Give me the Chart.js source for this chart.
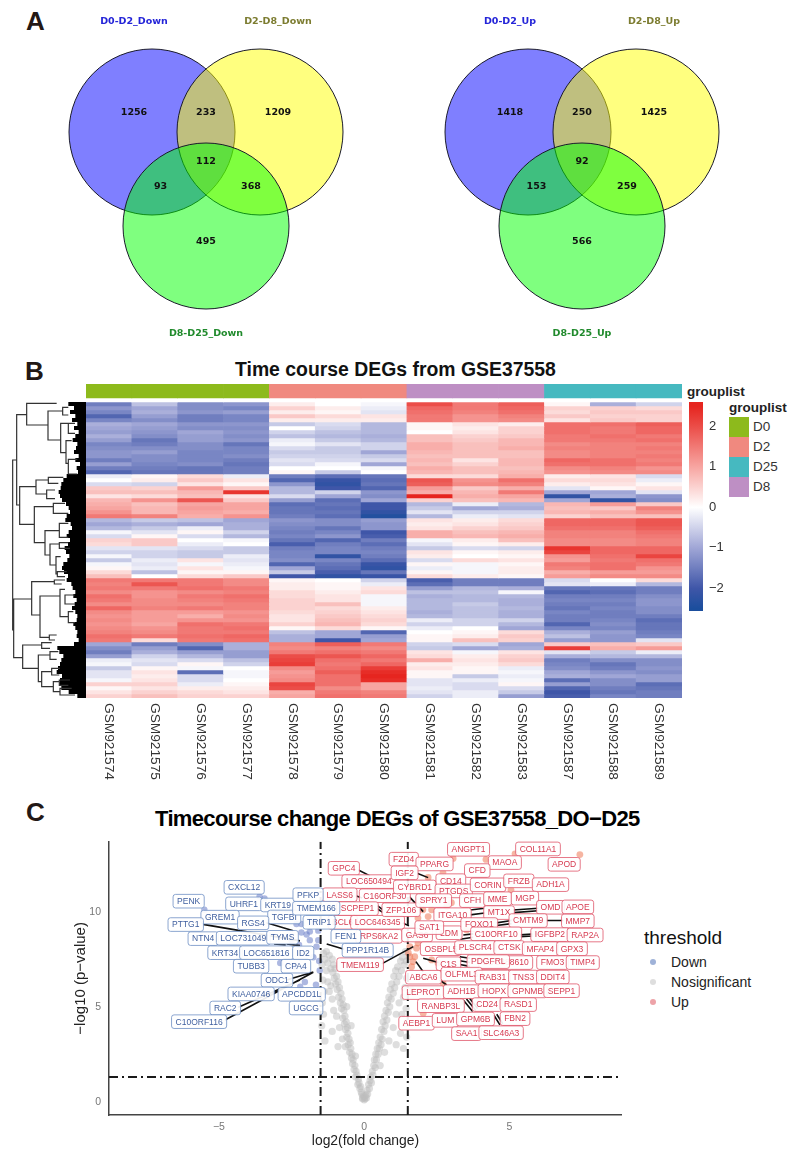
<!DOCTYPE html>
<html>
<head>
<meta charset="utf-8">
<title>Time course DEGs</title>
<script src="https://cdn.jsdelivr.net/npm/chart.js@4"></script>
<style>
  html, body { margin: 0; padding: 0; background: #fff; }
  body { position: relative; width: 796px; height: 1155px; overflow: hidden; font-family: "Liberation Sans", Arial, sans-serif; }
  canvas { position: absolute; }
  .txt { position: absolute; white-space: nowrap; color: #111; line-height: 1; }
  .letra { font-weight: bold; font-size: 26px; color: #231815; }
</style>
</head>
<body>
<div class="txt letra" style="left:26px;top:8px">A</div>
<div class="txt letra" style="left:25px;top:358px">B</div>
<div class="txt letra" style="left:26px;top:799px">C</div>
<div class="txt" style="left:235px;top:360px;font-size:19.4px;font-weight:bold">Time course DEGs from GSE37558</div>
<div class="txt" style="left:155px;top:808px;font-size:22px;font-weight:bold;letter-spacing:-0.65px;color:#000">Timecourse change DEGs of GSE37558_DO−D25</div>
<div class="txt" style="left:687px;top:385px;font-size:13.5px;font-weight:bold;color:#222">grouplist</div>
<div class="txt" style="left:729px;top:401px;font-size:13.5px;font-weight:bold;color:#222">grouplist</div>
<div class="txt" style="left:644px;top:928px;font-size:19px;color:#111">threshold</div>

<canvas id="vennDown" width="400" height="350" style="left:0;top:0"></canvas>
<canvas id="vennUp" width="400" height="350" style="left:376px;top:0"></canvas>
<canvas id="dendro" width="86" height="296" style="left:0;top:402px"></canvas>
<canvas id="heat" width="596" height="410" style="left:86px;top:384px"></canvas>
<canvas id="colorbar" width="40" height="209" style="left:689px;top:402px"></canvas>
<canvas id="volcano" width="550" height="312" style="left:72px;top:838px"></canvas>
<div id="legendas"></div>

<script>
// ---- panel A
const vennRegions = ["A", "AB", "B", "ABC", "AC", "BC", "C"];
const vennDownCounts = [1256, 233, 1209, 112, 93, 368, 495];
const vennUpCounts = [1418, 250, 1425, 92, 153, 259, 566];
const vennDownNames = ["D0-D2_Down", "D2-D8_Down", "D8-D25_Down"];
const vennUpNames = ["D0-D2_Up", "D2-D8_Up", "D8-D25_Up"];

// ---- panel B
const sampleNames = ["GSM921574", "GSM921575", "GSM921576", "GSM921577", "GSM921578", "GSM921579", "GSM921580",
  "GSM921581", "GSM921582", "GSM921583", "GSM921587", "GSM921588", "GSM921589"];
const sampleGroups = ["D0", "D0", "D0", "D0", "D2", "D2", "D2", "D8", "D8", "D8", "D25", "D25", "D25"];
const groupNames = ["D0", "D2", "D25", "D8"];
const groupColors = ["#8dba1c", "#f0897f", "#46b9c0", "#be8fc4"];
const colorbarTicks = [-2, -1, 0, 1, 2];

const heatRows = [
  [-1.5,-0.7,-1.3,-1.2, 0.2,0.0,-0.1, 2.0,1.5,1.8, 0.1,-0.9,-0.5],
  [-1.2,-1.0,-1.3,-1.4, 0.5,0.2,-0.2, 1.7,1.5,1.7, 0.5,0.5,0.4],
  [-1.4,-0.9,-1.2,-1.1, 0.2,0.1,-0.3, 1.6,1.4,1.6, 0.4,0.6,0.6],
  [-1.8,-1.1,-1.5,-1.4, 0.6,0.4,0.3, 1.5,1.2,1.4, 0.6,0.5,0.5],
  [-1.4,-1.3,-1.5,-1.4, 0.2,0.2,0.2, 1.5,1.2,1.3, 0.3,0.6,0.5],
  [-0.9,-1.0,-1.2,-1.2, -0.6,-0.4,-0.8, 0.1,0.3,0.2, 1.6,1.6,1.8],
  [-1.0,-1.1,-1.3,-1.3, 0.0,-0.5,-0.8, 0.1,0.2,0.5, 1.6,1.5,1.7],
  [-1.1,-1.2,-1.0,-1.2, -0.5,-0.7,-0.8, 0.0,0.3,0.5, 1.6,1.5,1.7],
  [-0.9,-1.3,-1.1,-1.3, -0.7,-0.8,-0.9, 0.7,0.5,0.6, 1.5,1.6,1.5],
  [-1.1,-1.6,-1.1,-1.2, -0.2,-0.6,-0.8, 0.7,0.6,0.8, 1.5,1.5,1.6],
  [-1.4,-1.5,-1.3,-1.6, -0.1,-0.3,-0.5, 0.9,0.7,0.8, 1.3,1.4,1.4],
  [-1.3,-1.3,-1.3,-1.4, -0.4,-0.6,-0.5, 0.9,0.7,0.9, 1.4,1.4,1.5],
  [-1.2,-1.1,-1.4,-1.4, -0.6,-0.6,-1.0, 0.8,0.7,0.7, 1.3,1.4,1.4],
  [-1.2,-1.3,-1.4,-1.3, -0.5,-0.5,-0.6, 0.7,0.7,0.7, 1.3,1.4,1.5],
  [-1.5,-1.3,-1.4,-1.5, -0.3,-0.4,-0.4, 0.8,0.3,0.8, 1.7,1.6,1.4],
  [-1.1,-1.4,-1.3,-1.6, -0.4,-0.1,-1.0, 0.7,0.5,0.8, 1.6,1.6,1.5],
  [-1.5,-1.5,-1.6,-1.5, 0.0,0.0,-0.1, 0.9,0.7,0.7, 1.3,1.4,1.2],
  [-1.8,-1.6,-1.6,-1.5, 0.1,-0.6,0.0, 0.8,0.7,0.8, 1.2,1.3,1.3],
  [-0.2,0.1,0.4,-0.2, -1.5,-1.7,-1.6, 0.4,0.4,0.9, 0.2,0.3,-0.4],
  [0.0,0.2,0.6,0.3, -1.8,-2.1,-1.7, 1.9,1.2,1.6, 0.4,0.4,-0.2],
  [-0.4,-0.5,0.3,0.1, -1.2,-2.2,-1.6, 1.8,1.3,1.4, 0.2,0.3,0.1],
  [0.6,0.5,1.1,0.6, -0.8,-2.0,-1.8, 1.1,0.6,0.9, -0.3,0.1,0.3],
  [0.7,0.7,0.8,2.3, -0.8,-0.5,-1.2, 0.9,0.8,1.5, -1.0,-1.0,-0.3],
  [0.3,0.4,0.7,0.3, -0.4,-1.0,-1.3, 2.5,0.9,1.0, -2.2,-0.9,-1.2],
  [0.8,1.2,1.9,0.6, -1.1,-1.7,-1.0, 0.5,0.7,0.8, -1.0,-2.2,-1.3],
  [0.9,0.7,1.0,1.0, -1.7,-1.6,-2.0, -0.8,-0.2,-0.8, 0.8,1.1,0.6],
  [1.0,0.8,1.1,1.0, -1.6,-1.7,-2.0, -0.6,-1.0,-0.9, 0.7,0.6,1.4],
  [1.2,0.8,1.0,0.9, -1.6,-1.6,-2.2, -0.3,-0.5,-0.5, 0.8,0.9,1.2],
  [1.5,1.4,0.9,1.2, -1.5,-1.7,-2.4, -0.8,-0.2,-0.3, 0.5,0.7,0.7],
  [-0.8,-0.6,-0.7,-1.0, -1.2,-1.3,-1.1, 0.3,0.2,0.4, 1.7,1.7,1.9],
  [-1.0,-0.9,-1.0,-0.9, -1.3,-1.3,-1.2, 0.2,0.3,0.5, 1.7,1.7,1.9],
  [-0.8,-0.6,-0.2,-0.9, -1.4,-1.6,-1.2, 0.3,0.5,0.6, 1.6,1.6,1.8],
  [-0.1,-0.3,0.1,-0.5, -1.5,-1.4,-2.0, 0.9,0.7,0.8, 1.4,1.4,1.6],
  [-0.4,0.1,-0.4,-0.8, -1.4,-1.2,-1.9, 0.9,0.8,0.9, 1.4,1.4,1.5],
  [0.5,0.6,0.0,-0.1, -1.6,-1.8,-1.5, -0.1,0.2,0.7, 1.3,1.3,1.4],
  [0.4,0.6,-0.2,0.0, -1.9,-1.5,-1.7, -0.3,0.1,0.2, 1.3,1.3,1.4],
  [-0.3,-0.3,-0.4,-0.6, -1.5,-1.4,-1.5, -0.6,-0.4,-0.5, 2.3,1.7,1.7],
  [-0.5,-0.5,-0.6,-0.6, -1.4,-1.4,-1.4, 0.3,0.1,0.2, 2.1,1.7,1.7],
  [-0.1,-0.5,-0.6,-0.2, -1.4,-2.2,-1.5, 0.2,0.0,0.1, 1.2,1.6,2.1],
  [-0.6,-0.2,0.3,-0.3, -1.3,-1.4,-1.7, -0.4,0.4,0.3, 1.1,1.5,1.6],
  [-0.1,-0.3,-0.1,-0.2, -1.8,-1.6,-2.1, 0.1,-0.1,0.1, 1.5,1.6,1.5],
  [0.1,-0.2,0.3,-0.1, -1.0,-1.7,-2.2, -0.2,-0.1,0.2, 1.4,1.6,1.2],
  [0.4,-0.7,0.1,0.1, -0.6,-1.9,-1.6, 0.1,-0.1,0.2, 0.9,1.1,1.1],
  [0.7,0.0,0.4,0.6, -2.0,-2.2,-2.1, 0.4,0.2,0.1, 1.1,1.3,1.3],
  [1.5,1.5,1.5,1.3, 0.1,0.0,-0.5, -1.9,-1.5,-1.5, -0.4,0.0,0.4],
  [1.4,1.9,1.5,1.3, 0.2,0.1,-0.2, -1.7,-1.5,-1.5, -0.3,-0.2,-0.8],
  [1.5,1.5,1.6,1.5, 0.2,0.1,0.3, -1.1,-0.8,-0.9, -1.6,-1.6,-1.5],
  [1.3,1.2,1.3,1.4, 0.4,0.2,0.4, -0.7,-0.7,-0.1, -1.8,-1.7,-1.5],
  [1.6,1.2,1.5,1.6, 0.4,0.3,-0.1, -0.9,-0.8,-0.8, -1.5,-1.5,-1.3],
  [1.5,1.3,1.4,1.5, 0.5,0.3,-0.1, -0.8,-0.8,-0.9, -1.4,-1.4,-1.2],
  [1.3,1.3,1.3,1.4, 0.5,0.7,-0.1, -0.8,-0.6,-0.9, -1.5,-1.5,-1.2],
  [1.7,1.4,1.5,1.4, 0.5,0.4,0.2, -0.8,-0.7,-0.8, -1.6,-1.4,-1.3],
  [1.3,1.1,1.1,1.2, 0.4,0.5,0.3, -0.9,-0.7,-0.9, -1.4,-1.5,-1.3],
  [1.2,1.1,0.9,1.3, 0.3,0.6,0.4, -0.8,-0.7,-0.9, -1.5,-1.5,-1.5],
  [1.3,1.1,1.2,1.2, 0.3,0.7,0.5, -0.2,-0.5,-0.5, -1.5,-1.4,-1.7],
  [1.2,1.0,1.6,1.5, 0.5,0.8,0.4, -0.5,-0.5,-0.8, -1.8,-1.3,-1.6],
  [1.3,1.2,1.5,1.6, 0.1,0.4,0.1, -0.2,0.0,-1.0, -1.4,-1.4,-1.6],
  [1.4,1.3,1.5,1.5, -0.7,-1.0,-1.8, 0.0,0.1,0.4, -0.9,-1.1,-1.5],
  [1.6,1.5,1.6,1.7, -0.9,-1.0,-1.1, 0.1,0.2,0.6, -0.7,-1.2,-1.4],
  [1.5,0.4,1.5,1.6, -0.9,-2.0,-1.0, 0.1,0.7,0.5, -1.1,-1.2,-0.3],
  [-1.0,-1.5,-1.3,-0.9, 1.4,1.8,1.5, -0.5,-0.4,-1.0, 0.6,0.7,0.6],
  [-1.3,-1.1,-1.8,-0.9, 1.3,1.4,1.3, -0.6,-1.0,-0.9, 2.2,0.9,1.1],
  [-1.5,-0.9,-1.1,-1.1, 1.5,1.6,1.5, 0.3,-0.1,0.3, -0.3,-0.6,-0.2],
  [-1.1,-0.5,-0.8,-1.1, 2.0,1.9,1.7, 0.4,0.2,0.5, -0.9,-0.8,-0.8],
  [-0.2,-0.3,-0.4,-0.7, 2.1,1.6,1.5, 0.9,0.3,0.6, -1.5,-1.3,-1.3],
  [-0.1,-0.4,0.1,-0.5, 2.2,1.5,1.7, 0.2,0.2,0.4, -1.4,-1.6,-1.3],
  [-0.6,0.1,-0.1,0.0, 1.3,1.6,2.2, 0.3,0.1,-0.2, -1.3,-1.5,-1.2],
  [-0.3,0.3,-1.7,-0.1, 1.1,1.8,2.4, 0.1,0.1,-0.1, -1.0,-1.2,-1.3],
  [-0.3,0.2,-0.4,-0.1, 1.2,1.6,2.5, 0.1,-0.6,-0.2, -0.9,-1.0,-1.1],
  [-0.1,0.3,-0.4,0.0, 1.3,1.6,2.4, -0.3,-0.2,-0.1, -1.7,-1.3,-1.1],
  [0.5,0.5,-0.2,0.1, 2.1,1.6,1.0, -0.3,-0.4,0.1, -1.1,-1.3,-1.7],
  [0.1,0.3,0.2,0.2, 2.0,1.3,1.0, -0.2,-0.4,-0.4, -1.8,-1.5,-1.6],
  [0.3,0.5,0.4,0.3, 0.9,1.5,1.4, -0.3,-0.2,-0.6, -2.0,-1.6,-1.5],
  [0.5,0.7,0.5,0.5, 1.0,1.6,1.5, -0.5,-0.2,-1.1, -1.9,-1.4,-1.5]
];

// dendrogram: [merge, leafTop, leafBottom, childTop, childBottom]
const dendroLinks = [
  [38,180,690,50,41], [50,44,315,80,59], [41,597,773,95,68], [80,10,75,170,144], [144,33,120,188,182],
  [188,22,45,205,205], [182,70,158,205,198], [198,122,190,215,205], [205,70,100,225,225], [205,178,222,232,232],
  [59,260,373,108,103], [108,240,282,145,140], [145,232,250,190,175], [140,270,296,165,165], [103,320,428,160,135],
  [160,310,340,195,205], [135,392,465,178,150], [178,370,412,205,205], [150,432,495,178,168], [178,428,445,205,210],
  [168,470,522,182,172], [172,515,530,200,195], [95,545,645,163,120], [163,540,552,195,185], [120,588,712,180,148],
  [180,568,650,195,205], [195,585,612,225,225], [205,635,668,220,225], [148,705,720,170,165], [68,735,805,125,115],
  [125,728,745,155,150], [115,765,845,150,125], [150,755,778,175,170], [125,815,860,155,160], [155,805,825,180,178],
  [160,845,875,178,180], [178,840,856,210,205], [180,865,885,215,225]
];
const leafEdge = [205,222,210,226,216,232,222,236,226,218,232,228,222,236,226,240,230,234,200,
  190,184,182,176,180,186,198,206,210,200,196,212,216,206,200,210,204,194,198,208,202,190,186,192,204,
  200,214,218,226,220,230,224,216,226,232,230,220,226,232,230,236,222,172,178,190,184,180,174,170,186,
  180,178,184,206,232];

// ---- panel C
const volcanoXTicks = [-5, 0, 5];
const volcanoYTicks = [0, 5, 10];
const grayX = [-0.05,-0.08,0.0,-0.1,-0.12,-0.15,-0.18,-0.2,-0.22,-0.25,-0.28,-0.3,-0.32,-0.35,-0.38,-0.4,-0.42,-0.44,-0.46,-0.48,
  -0.5,-0.52,-0.55,-0.56,-0.58,-0.6,-0.62,-0.64,-0.66,-0.68,-0.7,-0.72,-0.74,-0.76,-0.78,-0.8,-0.82,-0.85,-0.88,-0.9,
  -0.93,-0.95,-0.98,-1.0,-1.03,-1.05,-1.08,-1.1,-1.15,-1.2,-1.25,-1.3,-1.35,-1.4,-1.45,-1.42,-1.38,-1.44,-1.4,-1.46,
  -1.2,-1.25,-1.1,-1.05,-0.95,-1.3,-1.15,-0.85,-0.75,-1.35,-1.1,-0.65,-0.3,-0.9,-0.6,-0.45,
  0.03,0.06,0.1,0.12,0.15,0.18,0.2,0.22,0.25,0.28,0.3,0.33,0.35,0.38,0.4,0.42,0.45,0.48,0.5,0.52,
  0.55,0.58,0.6,0.62,0.65,0.68,0.7,0.72,0.75,0.78,0.8,0.83,0.85,0.88,0.9,0.93,0.95,1.0,1.02,1.05,
  1.08,1.12,1.15,1.2,1.25,1.28,1.32,1.38,1.42,1.45,1.47,1.4,1.35,1.44,1.3,1.42,1.2,1.1,1.46,1.25,
  1.0,0.85,1.1,1.35,0.7,0.55,0.02,-0.03,0.08,-0.06];
const grayY = [0.2,0.4,0.1,0.5,0.8,0.7,1.0,1.2,0.9,1.4,1.6,1.3,1.9,1.7,2.2,2.0,2.5,2.3,2.8,3.1,
  2.6,3.3,3.0,3.6,3.9,3.4,4.2,3.8,4.5,4.1,4.8,5.1,4.4,5.4,4.9,5.7,5.2,6.0,5.5,6.3,
  5.9,6.6,6.2,7.0,6.5,7.2,6.8,7.5,7.0,7.7,7.3,7.9,7.5,7.8,7.2,6.4,5.8,5.2,4.6,4.0,
  5.8,6.3,5.4,4.8,4.5,6.9,6.1,3.9,3.3,3.2,3.7,2.9,2.4,2.9,5.0,4.0,
  0.15,0.35,0.6,0.4,0.9,0.7,1.1,1.3,1.0,1.6,1.4,1.9,2.2,1.8,2.5,2.2,2.8,2.5,3.1,2.8,
  3.4,3.0,3.8,3.3,4.2,3.7,4.5,4.0,4.8,4.3,5.2,4.7,5.5,5.0,5.9,5.4,6.2,5.7,6.6,6.0,
  6.9,6.3,7.1,6.6,7.4,6.9,7.6,7.2,7.9,7.4,6.5,6.0,5.5,4.9,4.6,4.1,5.2,4.6,3.4,3.6,
  3.9,3.2,3.0,2.8,2.6,1.9,0.25,0.3,0.2,0.15];
const downX = [-5.5,-3.6,-3.43,-2.16,-1.98,-1.87,-1.58,-2.24,-1.64,-1.75,-1.55,-2.89,-2.33,-2.16,-2.04,-1.66,-1.53,-2.2,-2.4,-1.58,-1.87,-1.75,-2.1,-2.5];
const downY = [10.1,10.8,10.7,8.9,8.8,8.5,8.5,8.25,8.15,7.6,7.4,7.3,9.35,9.35,6.3,6.15,6.9,6.05,7.1,9.0,8.95,9.4,7.0,8.5];
const upX = [7.42,5.19,3.06,4.19,2.71,2.2,5.05,3.0,2.2,1.85,2.32,1.57,1.85,1.57,1.74,1.63,2.32,2.03,2.54,1.8,2.15,2.71,1.63,3.29,1.52,1.68,2.02,2.54,2.84,3.52,4.44];
const upY = [13.0,13.04,12.8,12.75,12.05,11.8,11.14,10.47,9.74,9.66,10.1,8.16,8.35,7.63,7.63,7.1,7.46,4.66,7.3,8.08,6.58,6.25,5.88,5.2,7.83,7.37,10.1,5.53,10.27,9.04,10.1];

const downNames = ["CXCL12","PENK","UHRF1","KRT19","GREM1","TGFBI","PFKP","TMEM166","PTTG1","RGS4","NTN4","LOC731049","TYMS","KRT34","LOC651816","ID2","TUBB3","CPA4","ODC1","KIAA0746","APCDD1L","RAC2","UGCG","C10ORF116","FEN1","TRIP1","PPP1R14B"];
const downLabelX = [-4.13,-6.04,-4.14,-2.97,-4.96,-2.75,-1.93,-1.65,-6.14,-3.82,-5.54,-4.16,-2.81,-4.79,-3.36,-2.10,-3.89,-2.35,-3.0,-3.89,-2.15,-4.78,-2.0,-5.68,-0.63,-1.55,0.12];
const downLabelY = [11.28,10.55,10.41,10.35,9.71,9.72,10.89,10.18,9.32,9.41,8.58,8.6,8.65,7.84,7.84,7.83,7.13,7.13,6.39,5.67,5.65,4.93,4.93,4.21,8.7,9.44,7.97];
const upNames = ["GPC4","LOC650494","LASS6","C16ORF30","SCPEP1","BCL6","LOC646345","RPS6KA2","TMEM119","ZFP106","GAS6","FZD4","PPARG","ANGPT1","COL11A1","MAOA","APOD","IGF2","CFD","CD14","CYBRD1","PTGDS","CORIN","FRZB","ADH1A","CFH","SPRY1","MME","MGP","OMD","APOE","ITGA10","MT1X","CMTM9","MMP7","LDM","FOXO1","SAT1","C10ORF10","IGFBP2","RAP2A","OSBPL5","PLSCR4","CTSK","MFAP4","GPX3","C1S","LOC388610","PDGFRL","FMO3","TIMP4","ABCA6","OLFML3","RAB31","TNS3","DDIT4","LEPROT","ADH1B","HOPX","GPNMB","SEPP1","RANBP3L","CD24","RASD1","AEBP1","LUM","GPM6B","FBN2","SAA1","SLC46A3"];
const upLabelX = [-0.70,0.16,-0.84,0.71,-0.23,-0.74,0.46,0.51,-0.14,1.27,1.82,1.36,2.42,3.59,5.98,4.84,6.88,1.39,3.89,2.98,1.74,3.08,4.26,5.32,6.41,3.72,2.39,4.59,5.53,6.41,7.35,3.04,4.64,5.64,7.35,2.92,3.96,2.24,4.54,6.39,7.6,2.64,3.82,4.99,6.06,7.15,2.9,4.87,4.27,6.48,7.52,2.04,3.35,4.42,5.48,6.49,2.03,3.35,4.47,5.62,6.79,2.64,4.23,5.3,1.8,2.79,3.83,5.19,3.52,4.71];
const upLabelY = [12.28,11.58,10.89,10.84,10.16,9.44,9.44,8.7,7.21,10.1,8.77,12.76,12.51,13.28,13.3,12.58,12.49,12.04,12.16,11.63,11.3,11.09,11.41,11.62,11.42,10.58,10.58,10.68,10.71,10.23,10.25,9.84,9.95,9.53,9.51,8.89,9.32,9.16,8.83,8.79,8.77,8.05,8.11,8.11,8.05,8.05,7.26,7.32,7.37,7.32,7.32,6.55,6.71,6.56,6.56,6.56,5.74,5.79,5.84,5.83,5.84,5.05,5.11,5.11,4.13,4.28,4.35,4.37,3.58,3.63];

// label connectors: [x1, y1, x2, y2] in plot units
const connectorLines = [
  [-5.54,9.33,-2.21,8.46], [-3.36,9.41,-2.44,9.0], [-4.79,4.3,-1.75,6.81], [-4.33,4.97,-2.21,6.4], [-2.67,6.4,-1.75,6.82],
  [-2.67,8.3,-2.21,8.21], [-1.29,8.3,-0.69,8.02], [0.6,7.25,1.69,8.16], [-0.2,12.19,0.2,11.88], [1.82,12.02,2.2,11.79],
  [-0.29,10.84,-0.07,10.72], [0.45,10.32,0.65,10.09], [0.45,10.15,0.65,9.95], [1.55,10.79,2.03,10.0], [1.33,9.4,1.54,9.25],
  [3.64,10.09,4.15,10.18], [3.64,9.83,4.15,9.93], [5.13,10.09,5.99,10.18], [5.13,9.95,5.99,10.05], [6.28,9.53,6.85,9.53],
  [4.55,9.41,5.07,9.53], [4.55,9.27,5.07,9.37], [5.36,8.68,5.79,8.72], [5.36,8.78,5.79,8.82], [3.41,8.77,3.75,8.83],
  [3.3,8.55,3.75,8.65], [2.03,7.55,2.55,7.32], [3.29,7.63,3.64,7.55], [3.29,7.42,3.64,7.32], [3.29,7.22,3.64,7.12],
  [1.78,7.37,2.03,6.84], [2.6,6.4,2.84,6.14], [3.41,5.35,3.73,4.74], [3.52,5.4,3.84,4.8], [3.62,5.45,3.9,4.9],
  [4.46,4.56,4.67,4.04], [4.56,4.6,4.77,4.1], [-3.1,8.3,-2.7,8.25]
];

// ---- helpers
Chart.defaults.layout.autoPadding = false;

const rampValues = [-2.5, -2, -1, 0, 1, 2, 2.5];
const rampColors = [[27,78,157], [63,86,168], [160,166,214], [255,255,255], [247,165,161], [235,77,72], [230,37,31]];

function corCelula(v) {
  const t = Math.max(-2.5, Math.min(2.5, v));
  let i = 0;
  while (i < rampValues.length - 2 && t > rampValues[i + 1]) i++;
  const f = (t - rampValues[i]) / (rampValues[i + 1] - rampValues[i]);
  const c = rampColors[i].map((a, k) => Math.round(a + (rampColors[i + 1][k] - a) * f));
  return `rgb(${c[0]},${c[1]},${c[2]})`;
}

function criarVenn(idCanvas, contagens, nomes) {
  const centros = [[206, 226], [260, 132], [152, 132]]; // drawn last to first
  const cores = ["rgba(0,255,0,0.5)", "rgba(255,255,0,0.5)", "rgba(0,0,255,0.5)"];
  const posTexto = { A: [134, 113], AB: [206, 113], B: [278, 113], ABC: [206, 161.5], AC: [160.5, 187], BC: [251, 187], C: [206, 242] };
  const posNome = [[134, 22], [278, 22], [206, 334]];
  const corNome = ["#2424d8", "#7c7c30", "#208a2c"];

  new Chart(document.getElementById(idCanvas), {
    type: "bubble",
    data: {
      datasets: centros.map((c, i) => ({
        data: [{ x: c[0], y: c[1], r: 83 }],
        backgroundColor: cores[i],
        borderColor: "#1a1a2a",
        borderWidth: 1
      }))
    },
    options: {
      responsive: false,
      animation: false,
      layout: { padding: 0 },
      plugins: { legend: { display: false }, tooltip: { enabled: false } },
      scales: {
        x: { display: false, min: 0, max: 400 },
        y: { display: false, min: 0, max: 350, reverse: true }
      }
    },
    plugins: [{
      id: "textosVenn",
      afterDatasetsDraw(chart) {
        const ctx = chart.ctx;
        const sx = chart.scales.x, sy = chart.scales.y;
        ctx.save();
        ctx.textAlign = "center";
        ctx.textBaseline = "middle";
        ctx.font = 'bold 9.5px "DejaVu Sans"';
        ctx.fillStyle = "#111";
        vennRegions.forEach((r, i) => {
          ctx.fillText(String(contagens[i]), sx.getPixelForValue(posTexto[r][0]), sy.getPixelForValue(posTexto[r][1]));
        });
        nomes.forEach((n, i) => {
          ctx.fillStyle = corNome[i];
          ctx.fillText(n, sx.getPixelForValue(posNome[i][0]), sy.getPixelForValue(posNome[i][1]));
        });
        ctx.restore();
      }
    }]
  });
}

function criarDendro() {
  const linhas = [];
  dendroLinks.forEach(l => {
    linhas.push({ x: l[3], y: l[1] }, { x: l[0], y: l[1] }, { x: l[0], y: l[2] }, { x: l[4], y: l[2] }, { x: null, y: null });
  });
  const folhas = [];
  leafEdge.forEach((x, i) => {
    const y = 12 + i * 12;
    folhas.push({ x: x, y: y }, { x: 258, y: y }, { x: null, y: null });
  });
  new Chart(document.getElementById("dendro"), {
    type: "scatter",
    data: {
      datasets: [
        { data: linhas, showLine: true, pointRadius: 0, borderColor: "#333", borderWidth: 1.2, spanGaps: false },
        { data: folhas, showLine: true, pointRadius: 0, borderColor: "#000", borderWidth: 4.2, spanGaps: false }
      ]
    },
    options: {
      responsive: false,
      animation: false,
      layout: { padding: 0 },
      plugins: { legend: { display: false }, tooltip: { enabled: false } },
      scales: {
        x: { display: false, min: 0, max: 258 },
        y: { display: false, min: 6, max: 894, reverse: true }
      }
    }
  });
}

function criarHeatmap() {
  const corGrupo = sampleGroups.map(g => groupColors[groupNames.indexOf(g)]);
  const datasets = [
    { data: sampleNames.map(() => 3.5), backgroundColor: corGrupo },
    { data: sampleNames.map(() => 1), backgroundColor: "#fff" }
  ];
  heatRows.forEach(linha => {
    datasets.push({ data: linha.map(() => 1), backgroundColor: linha.map(corCelula) });
  });
  new Chart(document.getElementById("heat"), {
    type: "bar",
    data: { labels: sampleNames, datasets: datasets },
    options: {
      responsive: false,
      animation: false,
      layout: { padding: { bottom: 96 } },
      datasets: { bar: { barPercentage: 1, categoryPercentage: 1 } },
      plugins: { legend: { display: false }, tooltip: { enabled: false } },
      scales: {
        x: { display: false, stacked: true },
        y: { display: false, stacked: true, min: 0, max: heatRows.length + 4.5, reverse: true }
      }
    },
    plugins: [{
      id: "nomesAmostras",
      afterDatasetsDraw(chart) {
        const ctx = chart.ctx;
        ctx.save();
        ctx.font = '13.7px "Liberation Sans"';
        ctx.fillStyle = "#333";
        ctx.textAlign = "left";
        ctx.textBaseline = "middle";
        sampleNames.forEach((nome, i) => {
          ctx.save();
          ctx.translate(chart.scales.x.getPixelForValue(i), chart.chartArea.bottom + 5);
          ctx.rotate(Math.PI / 2);
          ctx.fillText(nome, 0, 0);
          ctx.restore();
        });
        ctx.restore();
      }
    }]
  });
}

// tick labels must not push the plot area in, the canvases are placed by pixel
function semMargemY(s, largura) {
  s.width = largura;
  s.paddingTop = 0;
  s.paddingBottom = 0;
}

function criarColorbar() {
  const topo = 2.6, base = -2.56;
  new Chart(document.getElementById("colorbar"), {
    type: "bar",
    data: {
      labels: ["z"],
      datasets: [{
        data: [[base, topo]],
        backgroundColor(c) {
          const area = c.chart.chartArea;
          if (!area) return "#fff";
          const g = c.chart.ctx.createLinearGradient(0, area.top, 0, area.bottom);
          rampValues.forEach((v, i) => {
            const cor = rampColors[i];
            g.addColorStop((topo - v) / (topo - base), `rgb(${cor[0]},${cor[1]},${cor[2]})`);
          });
          return g;
        },
        barPercentage: 1,
        categoryPercentage: 1
      }]
    },
    options: {
      responsive: false,
      animation: false,
      layout: { padding: 0 },
      plugins: { legend: { display: false }, tooltip: { enabled: false } },
      scales: {
        x: { display: false },
        y: {
          position: "right",
          min: base,
          max: topo,
          afterBuildTicks: s => { s.ticks = colorbarTicks.map(v => ({ value: v })); },
          afterFit: s => semMargemY(s, 26),
          border: { display: false },
          grid: { display: false, drawTicks: false },
          ticks: {
            padding: 6,
            color: "#333",
            font: { family: "Liberation Sans", size: 13 },
            callback: v => String(v).replace("-", "\u2212")
          }
        }
      }
    }
  });
}

function pontos(xs, ys) {
  return xs.map((x, i) => ({ x: x, y: ys[i] }));
}

function criarVolcano() {
  const conectores = [];
  connectorLines.forEach(l => {
    conectores.push({ x: l[0], y: l[1] }, { x: l[2], y: l[3] }, { x: null, y: null });
  });
  const xMin = -8.78, xMax = 8.87, yMin = -0.7, yMax = 13.68;
  const corte = { borderColor: "#1a1a1a", borderWidth: 2, borderDash: [9, 4, 2, 4], showLine: true, pointRadius: 0 };
  const fonteEixo = { family: "Liberation Sans", size: 10.5 };

  new Chart(document.getElementById("volcano"), {
    type: "scatter",
    data: {
      datasets: [
        { data: pontos(grayX, grayY), pointRadius: 3.6, borderWidth: 0, backgroundColor: "rgba(190,190,190,0.5)", order: 5 },
        { data: pontos(downX, downY), pointRadius: 3.2, borderWidth: 0, backgroundColor: "rgba(105,125,200,0.55)", order: 4 },
        { data: pontos(upX, upY), pointRadius: 3.4, borderWidth: 0, backgroundColor: "rgba(238,120,85,0.55)", order: 3 },
        Object.assign({ data: [{ x: -1.5, y: yMin }, { x: -1.5, y: yMax }], order: 2 }, corte),
        Object.assign({ data: [{ x: 1.5, y: yMin }, { x: 1.5, y: yMax }], order: 2 }, corte),
        Object.assign({ data: [{ x: xMin, y: 1.3 }, { x: xMax, y: 1.3 }], order: 2 }, corte),
        { data: conectores, showLine: true, pointRadius: 0, borderColor: "#111", borderWidth: 1.6, spanGaps: false, order: 1 }
      ]
    },
    options: {
      responsive: false,
      animation: false,
      layout: { padding: { top: 3.7, right: 0, bottom: 0, left: 0 } },
      plugins: { legend: { display: false }, tooltip: { enabled: false } },
      scales: {
        x: {
          min: xMin,
          max: xMax,
          afterBuildTicks: s => { s.ticks = volcanoXTicks.map(v => ({ value: v })); },
          afterFit: s => { s.height = 35; s.paddingLeft = 0; s.paddingRight = 0; },
          border: { color: "#444", width: 1.5 },
          grid: { display: false, tickLength: 3, tickColor: "#666" },
          ticks: {
            color: "#777",
            font: fonteEixo,
            padding: 3,
            maxRotation: 0,
            callback: v => String(v).replace("-", "\u2212")
          },
          title: { display: true, text: "log2(fold change)", color: "#222", font: { family: "Liberation Sans", size: 13.9 }, padding: { top: 2, bottom: 0 } }
        },
        y: {
          min: yMin,
          max: yMax,
          afterBuildTicks: s => { s.ticks = volcanoYTicks.map(v => ({ value: v })); },
          afterFit: s => semMargemY(s, 37),
          border: { color: "#444", width: 1.5 },
          grid: { display: false, tickLength: 3, tickColor: "#666" },
          ticks: { color: "#777", font: fonteEixo, padding: 5 },
          title: { display: true, text: "\u2212log10 (p\u2212value)", color: "#222", font: { family: "Liberation Sans", size: 15 }, padding: { top: 0, bottom: 2 } }
        }
      }
    },
    plugins: [{
      id: "rotulosGenes",
      afterDatasetsDraw(chart) {
        const sx = chart.scales.x, sy = chart.scales.y;
        desenharRotulos(chart.ctx, sx, sy, upNames, upLabelX, upLabelY, "#e0566a", "#d63a50");
        desenharRotulos(chart.ctx, sx, sy, downNames, downLabelX, downLabelY, "#6f8fc4", "#3f5f9f");
      }
    }]
  });
}

function desenharRotulos(ctx, sx, sy, nomes, xs, ys, corBorda, corTexto) {
  ctx.save();
  ctx.font = '8.5px "Liberation Sans"';
  ctx.textAlign = "center";
  ctx.textBaseline = "middle";
  nomes.forEach((n, i) => {
    const px = sx.getPixelForValue(xs[i]);
    const py = sy.getPixelForValue(ys[i]);
    const w = ctx.measureText(n).width + 8;
    ctx.beginPath();
    ctx.roundRect(px - w / 2, py - 6.8, w, 13.6, 2.5);
    ctx.fillStyle = "rgba(255,255,255,0.92)";
    ctx.fill();
    ctx.strokeStyle = corBorda;
    ctx.lineWidth = 0.8;
    ctx.stroke();
    ctx.fillStyle = corTexto;
    ctx.fillText(n, px, py + 0.5);
  });
  ctx.restore();
}

function criarLegendas() {
  const caixa = document.getElementById("legendas");
  let html = "";
  groupNames.forEach((g, i) => {
    const y = 417 + i * 20;
    html += `<div style="position:absolute;left:729px;top:${y}px;width:20px;height:20px;background:${groupColors[i]}"></div>`;
    html += `<div class="txt" style="left:753px;top:${y + 3}px;font-size:13.5px;color:#333">${g}</div>`;
  });
  const niveis = ["Down", "Nosignificant", "Up"];
  const coresNivel = ["#9fb2d8", "#dedede", "#eda3a8"];
  niveis.forEach((n, i) => {
    const y = 962 + i * 20;
    html += `<div style="position:absolute;left:650px;top:${y - 3}px;width:6px;height:6px;border-radius:50%;background:${coresNivel[i]}"></div>`;
    html += `<div class="txt" style="left:671px;top:${y - 7}px;font-size:14px;color:#222">${n}</div>`;
  });
  caixa.innerHTML = html;
}

criarVenn("vennDown", vennDownCounts, vennDownNames);
criarVenn("vennUp", vennUpCounts, vennUpNames);
criarDendro();
criarHeatmap();
criarColorbar();
criarVolcano();
criarLegendas();
</script>
</body>
</html>
